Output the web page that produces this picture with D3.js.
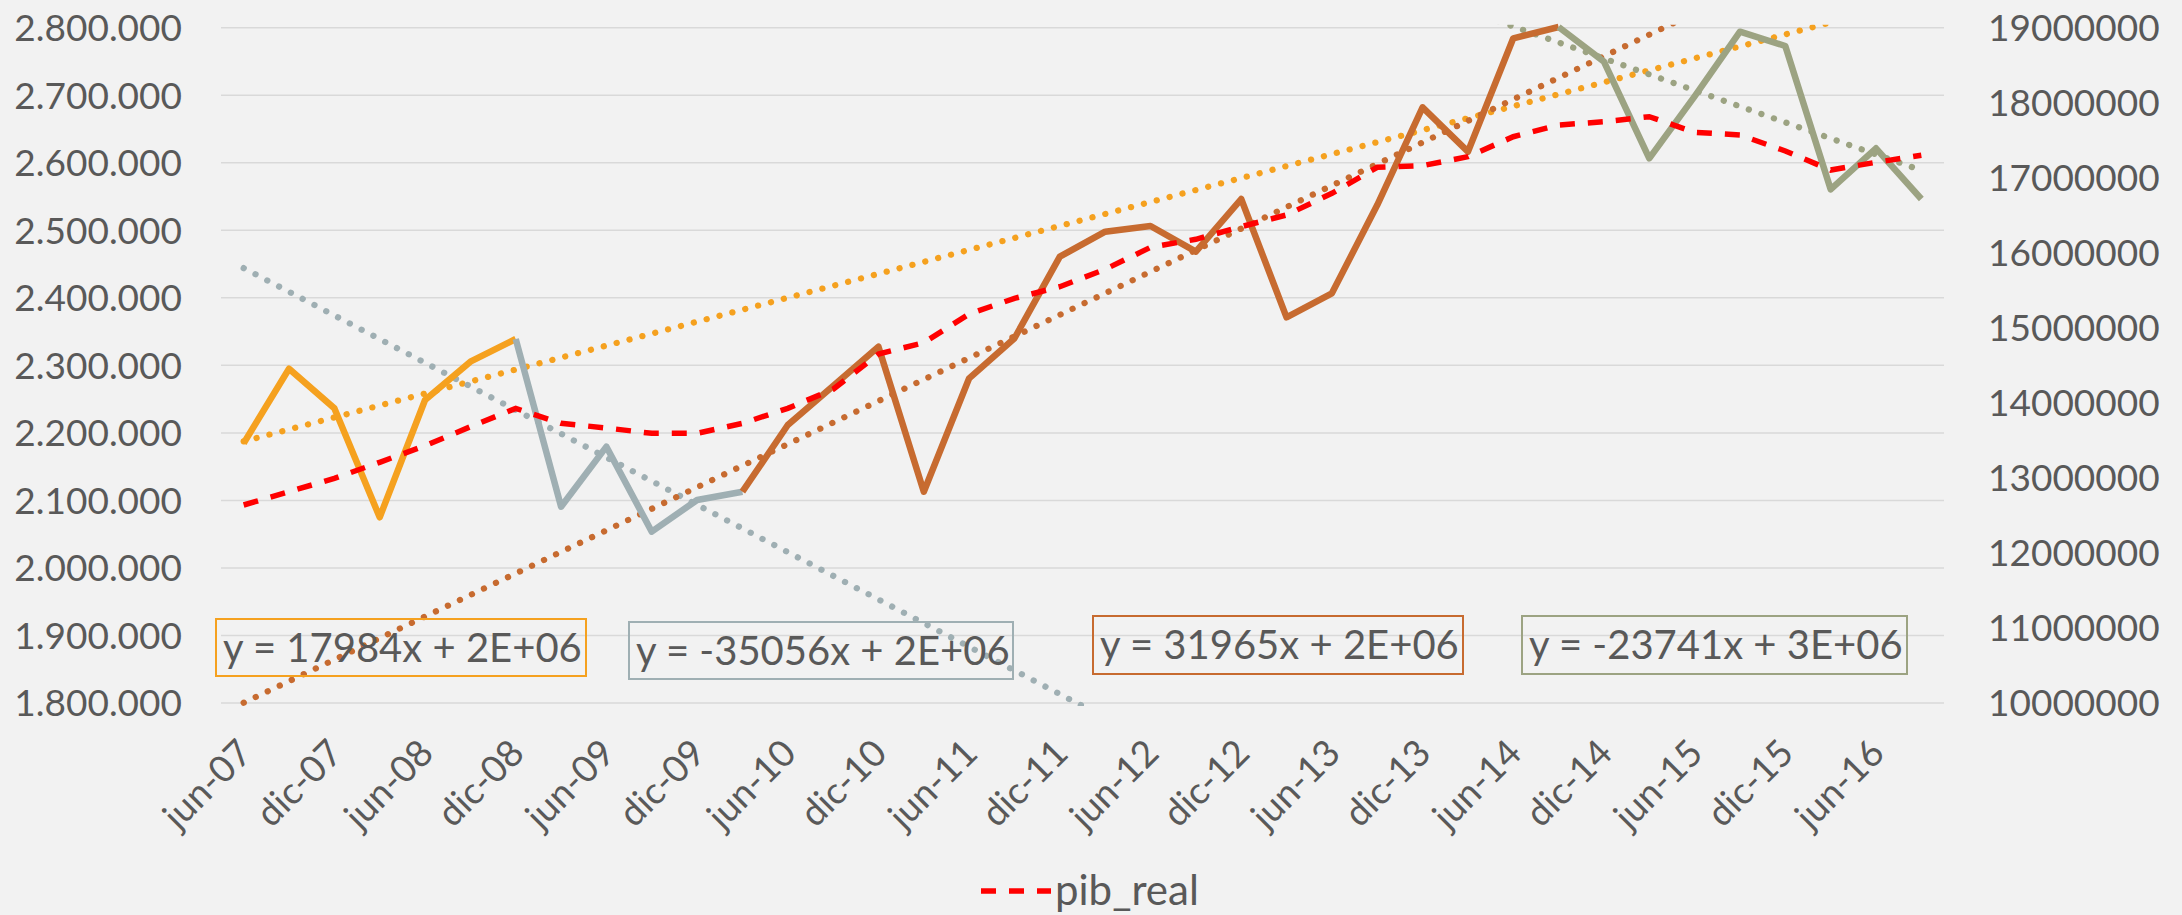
<!DOCTYPE html>
<html lang="es">
<head>
<meta charset="UTF-8">
<title>pib_real y tramos con tendencia</title>
<script src="https://cdnjs.cloudflare.com/ajax/libs/d3/7.8.5/d3.min.js"></script>
<style>
  body { margin: 0; background: #f2f2f2; overflow: hidden; }
  svg { display: block; font-family: Lato, "Open Sans", sans-serif; }
  text { fill: #595959; }
</style>
</head>
<body>
<svg id="chart" width="2182" height="915"></svg>
<script>
// trimestres (solo se rotulan jun y dic)
const categories = [
  "jun-07","sep-07","dic-07","mar-08","jun-08","sep-08","dic-08","mar-09","jun-09","sep-09",
  "dic-09","mar-10","jun-10","sep-10","dic-10","mar-11","jun-11","sep-11","dic-11","mar-12",
  "jun-12","sep-12","dic-12","mar-13","jun-13","sep-13","dic-13","mar-14","jun-14","sep-14",
  "dic-14","mar-15","jun-15","sep-15","dic-15","mar-16","jun-16","sep-16"
];

// cuatro tramos sobre el eje izquierdo, cada uno empieza en un trimestre
const tramo1 = [2184600, 2295000, 2236400, 2075000, 2248700, 2305400, 2339000];
const tramo2 = [2339000, 2090700, 2179600, 2053700, 2100600, 2112900];
const tramo3 = [2112900, 2211700, 2269400, 2327600, 2112900, 2280800, 2340100, 2460900, 2497900, 2506300,
                2468300, 2546300, 2371100, 2406700, 2537400, 2682100, 2616400, 2784300, 2801000];
const tramo4 = [2801000, 2749700, 2606600, 2698400, 2794100, 2772900, 2560700, 2621400, 2546300];
const inicios = [0, 6, 11, 29];

// pib_real, eje derecho
const pibReal = [
  12639000, 12816000, 12994000, 13208000, 13429000, 13682000, 13927000, 13727000, 13665000, 13594000,
  13594000, 13727000, 13927000, 14181000, 14651000, 14802000, 15184000, 15393000, 15548000, 15780000,
  16073000, 16180000, 16348000, 16504000, 16793000, 17139000, 17161000, 17281000, 17547000, 17703000,
  17747000, 17814000, 17606000, 17570000, 17357000, 17103000, 17206000, 17299000
];

const ecuaciones = ["y = 17984x + 2E+06", "y = -35056x + 2E+06", "y = 31965x + 2E+06", "y = -23741x + 3E+06"];

const colores = ["#f5a11f", "#9fafb3", "#c76b30", "#9ca382"];

// cajas de las ecuaciones (x, y, ancho, alto)
const cajas = [
  [216, 619, 370, 57],
  [629, 622, 384, 57],
  [1093, 616, 370, 58],
  [1522, 616, 385, 58]
];

const svg = d3.select("#chart");
const izq = 221, der = 1944, arriba = 27.7, abajo = 703;

const x = d3.scalePoint().domain(categories).range([izq, der]).padding(0.5);
const y = d3.scaleLinear().domain([1800000, 2800000]).range([abajo, arriba]);
const y2 = d3.scaleLinear().domain([10000000, 19000000]).range([abajo, arriba]);

const es = d3.formatLocale({ decimal: ",", thousands: ".", grouping: [3], currency: ["", "€"] });
const fmtIzq = es.format(",d");

// rejilla
svg.append("g").selectAll("line")
  .data(y.ticks(10))
  .join("line")
  .attr("x1", izq).attr("x2", der)
  .attr("y1", d => y(d)).attr("y2", d => y(d))
  .attr("stroke", "#d9d9d9").attr("stroke-width", 1.5);

// eje izquierdo
svg.append("g").selectAll("text")
  .data(y.ticks(10))
  .join("text")
  .attr("x", 182).attr("y", d => y(d)).attr("dy", "0.36em")
  .attr("text-anchor", "end").attr("font-size", 37)
  .text(d => fmtIzq(d));

// eje derecho
svg.append("g").selectAll("text")
  .data(y2.ticks(9))
  .join("text")
  .attr("x", 1988).attr("y", d => y2(d)).attr("dy", "0.36em")
  .attr("font-size", 37)
  .text(d => d3.format("d")(d));

// eje x
svg.append("g").selectAll("text")
  .data(categories.filter((c, i) => i % 2 === 0))
  .join("text")
  .attr("transform", d => `translate(${x(d) + 1},746) rotate(-45)`)
  .attr("text-anchor", "end").attr("dy", "0.36em")
  .attr("font-size", 37)
  .text(d => d);

svg.append("clipPath").attr("id", "zona")
  .append("rect").attr("x", izq).attr("y", arriba - 3).attr("width", der - izq).attr("height", abajo - arriba + 6);

const tramos = [tramo1, tramo2, tramo3, tramo4];
const linea = d3.line().x(d => x(categories[d.i])).y(d => y(d.v));

// tendencias lineales (minimos cuadrados sobre el indice del trimestre)
function ajuste(vals, ini) {
  const xs = vals.map((v, j) => ini + j);
  const mx = d3.mean(xs), my = d3.mean(vals);
  const b = d3.sum(xs, (xi, j) => (xi - mx) * (vals[j] - my)) / d3.sum(xs, xi => (xi - mx) * (xi - mx));
  return { a: my - b * mx, b: b };
}

const n = categories.length;
tramos.forEach((vals, k) => {
  const f = ajuste(vals, inicios[k]);
  svg.append("path")
    .datum([{ i: 0, v: f.a }, { i: n - 1, v: f.a + f.b * (n - 1) }])
    .attr("d", linea)
    .attr("clip-path", "url(#zona)")
    .attr("fill", "none")
    .attr("stroke", colores[k])
    .attr("stroke-width", 6.25)
    .attr("stroke-linecap", "round")
    .attr("stroke-dasharray", "0.1 13.2");
});

// tramos
tramos.forEach((vals, k) => {
  svg.append("path")
    .datum(vals.map((v, j) => ({ i: inicios[k] + j, v: v })))
    .attr("d", linea)
    .attr("fill", "none")
    .attr("stroke", colores[k])
    .attr("stroke-width", 6.5)
    .attr("stroke-linejoin", "round");
});

// pib_real
svg.append("path")
  .datum(pibReal)
  .attr("d", d3.line().x((d, i) => x(categories[i])).y(d => y2(d)))
  .attr("fill", "none")
  .attr("stroke", "#ff0000")
  .attr("stroke-width", 5.5)
  .attr("stroke-dasharray", "15 13");

// ecuaciones de tendencia
cajas.forEach((c, k) => {
  svg.append("rect")
    .attr("x", c[0]).attr("y", c[1]).attr("width", c[2]).attr("height", c[3])
    .attr("fill", "none").attr("stroke", colores[k]).attr("stroke-width", 2);
  svg.append("text")
    .attr("x", c[0] + 7).attr("y", c[1] + c[3] / 2).attr("dy", "0.36em")
    .attr("font-size", 40)
    .text(ecuaciones[k]);
});

// leyenda
svg.append("line")
  .attr("x1", 981).attr("x2", 1051).attr("y1", 891).attr("y2", 891)
  .attr("stroke", "#ff0000").attr("stroke-width", 5.5).attr("stroke-dasharray", "15 13");
svg.append("text")
  .attr("x", 1055).attr("y", 905).attr("font-size", 42)
  .text("pib_real");
</script>
</body>
</html>
